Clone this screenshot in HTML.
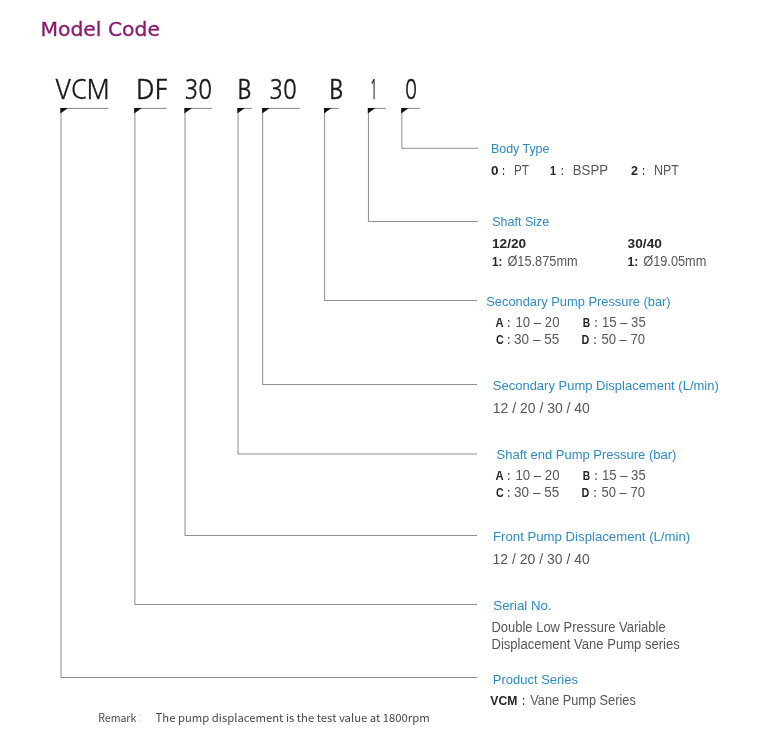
<!DOCTYPE html>
<html lang="en">
<head>
<meta charset="utf-8">
<title>Model Code</title>
<style>
html,body{margin:0;padding:0;background:#fff;}
body{width:770px;height:743px;overflow:hidden;font-family:"Liberation Sans",sans-serif;}
svg{display:block;}
text{white-space:pre;}
</style>
</head>
<body>
<svg width="770" height="743" viewBox="0 0 770 743">
<rect width="770" height="743" fill="#fff"/>
<g fill="none" stroke="#888" stroke-width="1">
<path d="M108.4 108.4H60.70"/>
<path d="M61.0 108.4V677.4H477.0" stroke="#909090" stroke-width="1.02"/>
<path d="M166.6 108.4H134.50"/>
<path d="M134.9 108.4V604.45H477.0" stroke="#909090" stroke-width="1.02"/>
<path d="M212.0 108.4H184.70"/>
<path d="M185.0 108.4V535.45H477.0" stroke="#909090" stroke-width="1.02"/>
<path d="M252.3 108.4H237.70"/>
<path d="M238.05 108.4V453.95H477.0" stroke="#909090" stroke-width="1.02"/>
<path d="M299.7 108.4H262.40"/>
<path d="M262.65 108.4V384.4H477.0" stroke="#909090" stroke-width="1.02"/>
<path d="M338.7 108.4H324.30"/>
<path d="M324.6 108.4V300.4H477.0" stroke="#909090" stroke-width="1.02"/>
<path d="M385.9 108.4H368.10"/>
<path d="M368.45 108.4V221.5H477.9" stroke="#909090" stroke-width="1.02"/>
<path d="M419.8 108.4H401.50"/>
<path d="M401.85 108.4V148.35H477.9" stroke="#909090" stroke-width="1.02"/>
</g>
<g fill="#111">
<path d="M60.4 107.95h7.6l-7.6 5.5z"/>
<path d="M134.2 107.95h7.6l-7.6 5.5z"/>
<path d="M184.4 107.95h7.6l-7.6 5.5z"/>
<path d="M237.4 107.95h7.6l-7.6 5.5z"/>
<path d="M262.1 107.95h7.6l-7.6 5.5z"/>
<path d="M324.0 107.95h7.6l-7.6 5.5z"/>
<path d="M367.8 107.95h7.6l-7.6 5.5z"/>
<path d="M401.2 107.95h7.6l-7.6 5.5z"/>
</g>
<text x="40.40" y="36.0" font-size="20.0" font-weight="400" fill="#8a1a6c" stroke="#8a1a6c" stroke-width="0.3" font-family='"DejaVu Sans", "Liberation Sans", sans-serif' textLength="119.60" lengthAdjust="spacingAndGlyphs">Model Code</text>
<text x="55.20" y="99.0" font-size="26.6" font-weight="400" fill="#1a1a1a" stroke="#1a1a1a" stroke-width="0.3" font-family='"NanumGothic", "Liberation Sans", sans-serif' textLength="54.50" lengthAdjust="spacingAndGlyphs">VCM</text>
<text x="136.00" y="99.0" font-size="26.6" font-weight="400" fill="#1a1a1a" stroke="#1a1a1a" stroke-width="0.3" font-family='"NanumGothic", "Liberation Sans", sans-serif' textLength="31.90" lengthAdjust="spacingAndGlyphs">DF</text>
<text x="184.50" y="99.0" font-size="26.6" font-weight="400" fill="#1a1a1a" stroke="#1a1a1a" stroke-width="0.3" font-family='"NanumGothic", "Liberation Sans", sans-serif' textLength="27.50" lengthAdjust="spacingAndGlyphs">30</text>
<text x="237.30" y="99.0" font-size="26.6" font-weight="400" fill="#1a1a1a" stroke="#1a1a1a" stroke-width="0.3" font-family='"NanumGothic", "Liberation Sans", sans-serif' textLength="14.70" lengthAdjust="spacingAndGlyphs">B</text>
<text x="269.20" y="99.0" font-size="26.6" font-weight="400" fill="#1a1a1a" stroke="#1a1a1a" stroke-width="0.3" font-family='"NanumGothic", "Liberation Sans", sans-serif' textLength="27.50" lengthAdjust="spacingAndGlyphs">30</text>
<text x="329.00" y="99.0" font-size="26.6" font-weight="400" fill="#1a1a1a" stroke="#1a1a1a" stroke-width="0.3" font-family='"NanumGothic", "Liberation Sans", sans-serif' textLength="14.80" lengthAdjust="spacingAndGlyphs">B</text>
<text x="369.90" y="99.0" font-size="26.6" font-weight="400" fill="#1a1a1a" stroke="#1a1a1a" stroke-width="0.3" font-family='"NanumGothic", "Liberation Sans", sans-serif' textLength="7.40" lengthAdjust="spacingAndGlyphs">1</text>
<text x="405.10" y="99.0" font-size="26.6" font-weight="400" fill="#1a1a1a" stroke="#1a1a1a" stroke-width="0.3" font-family='"NanumGothic", "Liberation Sans", sans-serif' textLength="12.00" lengthAdjust="spacingAndGlyphs">0</text>
<text x="490.98" y="153.1" font-size="12.8" font-weight="400" fill="#2f8ac0" font-family='"Liberation Sans", sans-serif' textLength="58.47" lengthAdjust="spacingAndGlyphs">Body Type</text>
<text x="490.90" y="174.8" font-size="13.3" font-weight="700" fill="#262626" font-family='"Liberation Sans", sans-serif' textLength="7.50" lengthAdjust="spacingAndGlyphs">0</text>
<text x="502.20" y="174.8" font-size="13.3" font-weight="700" fill="#262626" font-family='"Liberation Sans", sans-serif' textLength="2.60" lengthAdjust="spacingAndGlyphs">:</text>
<text x="514.00" y="174.8" font-size="15.2" font-weight="400" fill="#575757" font-family='"Liberation Sans", sans-serif' textLength="15.00" lengthAdjust="spacingAndGlyphs">PT</text>
<text x="550.00" y="174.8" font-size="13.3" font-weight="700" fill="#262626" font-family='"Liberation Sans", sans-serif' textLength="6.00" lengthAdjust="spacingAndGlyphs">1</text>
<text x="561.10" y="174.8" font-size="13.3" font-weight="700" fill="#262626" font-family='"Liberation Sans", sans-serif' textLength="2.60" lengthAdjust="spacingAndGlyphs">:</text>
<text x="572.80" y="174.8" font-size="15.2" font-weight="400" fill="#575757" font-family='"Liberation Sans", sans-serif' textLength="35.20" lengthAdjust="spacingAndGlyphs">BSPP</text>
<text x="631.00" y="174.8" font-size="13.3" font-weight="700" fill="#262626" font-family='"Liberation Sans", sans-serif' textLength="7.00" lengthAdjust="spacingAndGlyphs">2</text>
<text x="642.20" y="174.8" font-size="13.3" font-weight="700" fill="#262626" font-family='"Liberation Sans", sans-serif' textLength="2.60" lengthAdjust="spacingAndGlyphs">:</text>
<text x="653.90" y="174.8" font-size="15.2" font-weight="400" fill="#575757" font-family='"Liberation Sans", sans-serif' textLength="24.90" lengthAdjust="spacingAndGlyphs">NPT</text>
<text x="492.15" y="225.8" font-size="12.8" font-weight="400" fill="#2f8ac0" font-family='"Liberation Sans", sans-serif' textLength="57.22" lengthAdjust="spacingAndGlyphs">Shaft Size</text>
<text x="492.00" y="248.4" font-size="13.3" font-weight="700" fill="#262626" font-family='"Liberation Sans", sans-serif' textLength="34.10" lengthAdjust="spacingAndGlyphs">12/20</text>
<text x="627.60" y="248.4" font-size="13.3" font-weight="700" fill="#262626" font-family='"Liberation Sans", sans-serif' textLength="34.30" lengthAdjust="spacingAndGlyphs">30/40</text>
<text x="492.00" y="265.7" font-size="13.3" font-weight="700" fill="#262626" font-family='"Liberation Sans", sans-serif' textLength="10.40" lengthAdjust="spacingAndGlyphs">1:</text>
<text x="507.40" y="265.7" font-size="15.2" font-weight="400" fill="#575757" font-family='"Liberation Sans", sans-serif' textLength="70.30" lengthAdjust="spacingAndGlyphs">Ø15.875mm</text>
<text x="627.60" y="265.7" font-size="13.3" font-weight="700" fill="#262626" font-family='"Liberation Sans", sans-serif' textLength="10.80" lengthAdjust="spacingAndGlyphs">1:</text>
<text x="643.20" y="265.7" font-size="15.2" font-weight="400" fill="#575757" font-family='"Liberation Sans", sans-serif' textLength="63.20" lengthAdjust="spacingAndGlyphs">Ø19.05mm</text>
<text x="486.25" y="305.8" font-size="12.8" font-weight="400" fill="#2f8ac0" font-family='"Liberation Sans", sans-serif' textLength="184.35" lengthAdjust="spacingAndGlyphs">Secondary Pump Pressure (bar)</text>
<text x="495.50" y="326.8" font-size="13.3" font-weight="700" fill="#262626" font-family='"Liberation Sans", sans-serif' textLength="8.10" lengthAdjust="spacingAndGlyphs">A</text>
<text x="507.40" y="326.8" font-size="13.3" font-weight="700" fill="#262626" font-family='"Liberation Sans", sans-serif' textLength="2.60" lengthAdjust="spacingAndGlyphs">:</text>
<text x="515.50" y="326.8" font-size="15.2" font-weight="400" fill="#575757" font-family='"Liberation Sans", sans-serif' textLength="44.00" lengthAdjust="spacingAndGlyphs">10 – 20</text>
<text x="582.80" y="326.8" font-size="13.3" font-weight="700" fill="#262626" font-family='"Liberation Sans", sans-serif' textLength="7.40" lengthAdjust="spacingAndGlyphs">B</text>
<text x="594.80" y="326.8" font-size="13.3" font-weight="700" fill="#262626" font-family='"Liberation Sans", sans-serif' textLength="2.60" lengthAdjust="spacingAndGlyphs">:</text>
<text x="602.00" y="326.8" font-size="15.2" font-weight="400" fill="#575757" font-family='"Liberation Sans", sans-serif' textLength="43.70" lengthAdjust="spacingAndGlyphs">15 – 35</text>
<text x="495.90" y="343.7" font-size="13.3" font-weight="700" fill="#262626" font-family='"Liberation Sans", sans-serif' textLength="7.70" lengthAdjust="spacingAndGlyphs">C</text>
<text x="507.40" y="343.7" font-size="13.3" font-weight="700" fill="#262626" font-family='"Liberation Sans", sans-serif' textLength="2.60" lengthAdjust="spacingAndGlyphs">:</text>
<text x="514.10" y="343.7" font-size="15.2" font-weight="400" fill="#575757" font-family='"Liberation Sans", sans-serif' textLength="45.10" lengthAdjust="spacingAndGlyphs">30 – 55</text>
<text x="581.40" y="343.7" font-size="13.3" font-weight="700" fill="#262626" font-family='"Liberation Sans", sans-serif' textLength="7.80" lengthAdjust="spacingAndGlyphs">D</text>
<text x="593.80" y="343.7" font-size="13.3" font-weight="700" fill="#262626" font-family='"Liberation Sans", sans-serif' textLength="2.60" lengthAdjust="spacingAndGlyphs">:</text>
<text x="601.40" y="343.7" font-size="15.2" font-weight="400" fill="#575757" font-family='"Liberation Sans", sans-serif' textLength="43.50" lengthAdjust="spacingAndGlyphs">50 – 70</text>
<text x="492.83" y="390.3" font-size="12.8" font-weight="400" fill="#2f8ac0" font-family='"Liberation Sans", sans-serif' textLength="225.92" lengthAdjust="spacingAndGlyphs">Secondary Pump Displacement (L/min)</text>
<text x="492.80" y="412.6" font-size="15.2" font-weight="400" fill="#575757" font-family='"Liberation Sans", sans-serif' textLength="97.10" lengthAdjust="spacingAndGlyphs">12 / 20 / 30 / 40</text>
<text x="496.59" y="458.9" font-size="12.8" font-weight="400" fill="#2f8ac0" font-family='"Liberation Sans", sans-serif' textLength="179.72" lengthAdjust="spacingAndGlyphs">Shaft end Pump Pressure (bar)</text>
<text x="495.50" y="480.0" font-size="13.3" font-weight="700" fill="#262626" font-family='"Liberation Sans", sans-serif' textLength="8.10" lengthAdjust="spacingAndGlyphs">A</text>
<text x="507.40" y="480.0" font-size="13.3" font-weight="700" fill="#262626" font-family='"Liberation Sans", sans-serif' textLength="2.60" lengthAdjust="spacingAndGlyphs">:</text>
<text x="515.50" y="480.0" font-size="15.2" font-weight="400" fill="#575757" font-family='"Liberation Sans", sans-serif' textLength="44.00" lengthAdjust="spacingAndGlyphs">10 – 20</text>
<text x="582.80" y="480.0" font-size="13.3" font-weight="700" fill="#262626" font-family='"Liberation Sans", sans-serif' textLength="7.40" lengthAdjust="spacingAndGlyphs">B</text>
<text x="594.80" y="480.0" font-size="13.3" font-weight="700" fill="#262626" font-family='"Liberation Sans", sans-serif' textLength="2.60" lengthAdjust="spacingAndGlyphs">:</text>
<text x="602.00" y="480.0" font-size="15.2" font-weight="400" fill="#575757" font-family='"Liberation Sans", sans-serif' textLength="43.70" lengthAdjust="spacingAndGlyphs">15 – 35</text>
<text x="495.90" y="496.7" font-size="13.3" font-weight="700" fill="#262626" font-family='"Liberation Sans", sans-serif' textLength="7.70" lengthAdjust="spacingAndGlyphs">C</text>
<text x="507.40" y="496.7" font-size="13.3" font-weight="700" fill="#262626" font-family='"Liberation Sans", sans-serif' textLength="2.60" lengthAdjust="spacingAndGlyphs">:</text>
<text x="514.10" y="496.7" font-size="15.2" font-weight="400" fill="#575757" font-family='"Liberation Sans", sans-serif' textLength="45.10" lengthAdjust="spacingAndGlyphs">30 – 55</text>
<text x="581.40" y="496.7" font-size="13.3" font-weight="700" fill="#262626" font-family='"Liberation Sans", sans-serif' textLength="7.80" lengthAdjust="spacingAndGlyphs">D</text>
<text x="593.80" y="496.7" font-size="13.3" font-weight="700" fill="#262626" font-family='"Liberation Sans", sans-serif' textLength="2.60" lengthAdjust="spacingAndGlyphs">:</text>
<text x="601.40" y="496.7" font-size="15.2" font-weight="400" fill="#575757" font-family='"Liberation Sans", sans-serif' textLength="43.50" lengthAdjust="spacingAndGlyphs">50 – 70</text>
<text x="493.07" y="541.1" font-size="12.8" font-weight="400" fill="#2f8ac0" font-family='"Liberation Sans", sans-serif' textLength="197.10" lengthAdjust="spacingAndGlyphs">Front Pump Displacement (L/min)</text>
<text x="492.60" y="564.2" font-size="15.2" font-weight="400" fill="#575757" font-family='"Liberation Sans", sans-serif' textLength="97.10" lengthAdjust="spacingAndGlyphs">12 / 20 / 30 / 40</text>
<text x="493.35" y="609.9" font-size="12.8" font-weight="400" fill="#2f8ac0" font-family='"Liberation Sans", sans-serif' textLength="58.29" lengthAdjust="spacingAndGlyphs">Serial No.</text>
<text x="491.50" y="631.8" font-size="15.2" font-weight="400" fill="#575757" font-family='"Liberation Sans", sans-serif' textLength="174.10" lengthAdjust="spacingAndGlyphs">Double Low Pressure Variable</text>
<text x="491.50" y="648.8" font-size="15.2" font-weight="400" fill="#575757" font-family='"Liberation Sans", sans-serif' textLength="188.20" lengthAdjust="spacingAndGlyphs">Displacement Vane Pump series</text>
<text x="492.84" y="683.9" font-size="12.8" font-weight="400" fill="#2f8ac0" font-family='"Liberation Sans", sans-serif' textLength="85.10" lengthAdjust="spacingAndGlyphs">Product Series</text>
<text x="490.30" y="704.8" font-size="13.3" font-weight="700" fill="#262626" font-family='"Liberation Sans", sans-serif' textLength="27.00" lengthAdjust="spacingAndGlyphs">VCM</text>
<text x="522.30" y="704.8" font-size="13.3" font-weight="700" fill="#262626" font-family='"Liberation Sans", sans-serif' textLength="2.60" lengthAdjust="spacingAndGlyphs">:</text>
<text x="530.30" y="704.8" font-size="15.2" font-weight="400" fill="#575757" font-family='"Liberation Sans", sans-serif' textLength="105.50" lengthAdjust="spacingAndGlyphs">Vane Pump Series</text>
<text x="98.20" y="721.7" font-size="11.1" font-weight="400" fill="#484848" font-family='"Noto Sans CJK SC", "Liberation Sans", sans-serif' textLength="38.10" lengthAdjust="spacingAndGlyphs">Remark</text>
<text x="139.50" y="721.7" font-size="11.1" font-weight="400" fill="#484848" font-family='"Noto Sans CJK SC", "Liberation Sans", sans-serif' textLength="2.00" lengthAdjust="spacingAndGlyphs">：</text>
<text x="155.50" y="721.7" font-size="11.1" font-weight="400" fill="#484848" font-family='"Noto Sans CJK SC", "Liberation Sans", sans-serif' textLength="274.20" lengthAdjust="spacingAndGlyphs">The pump displacement is the test value at 1800rpm</text>
</svg>
</body>
</html>
